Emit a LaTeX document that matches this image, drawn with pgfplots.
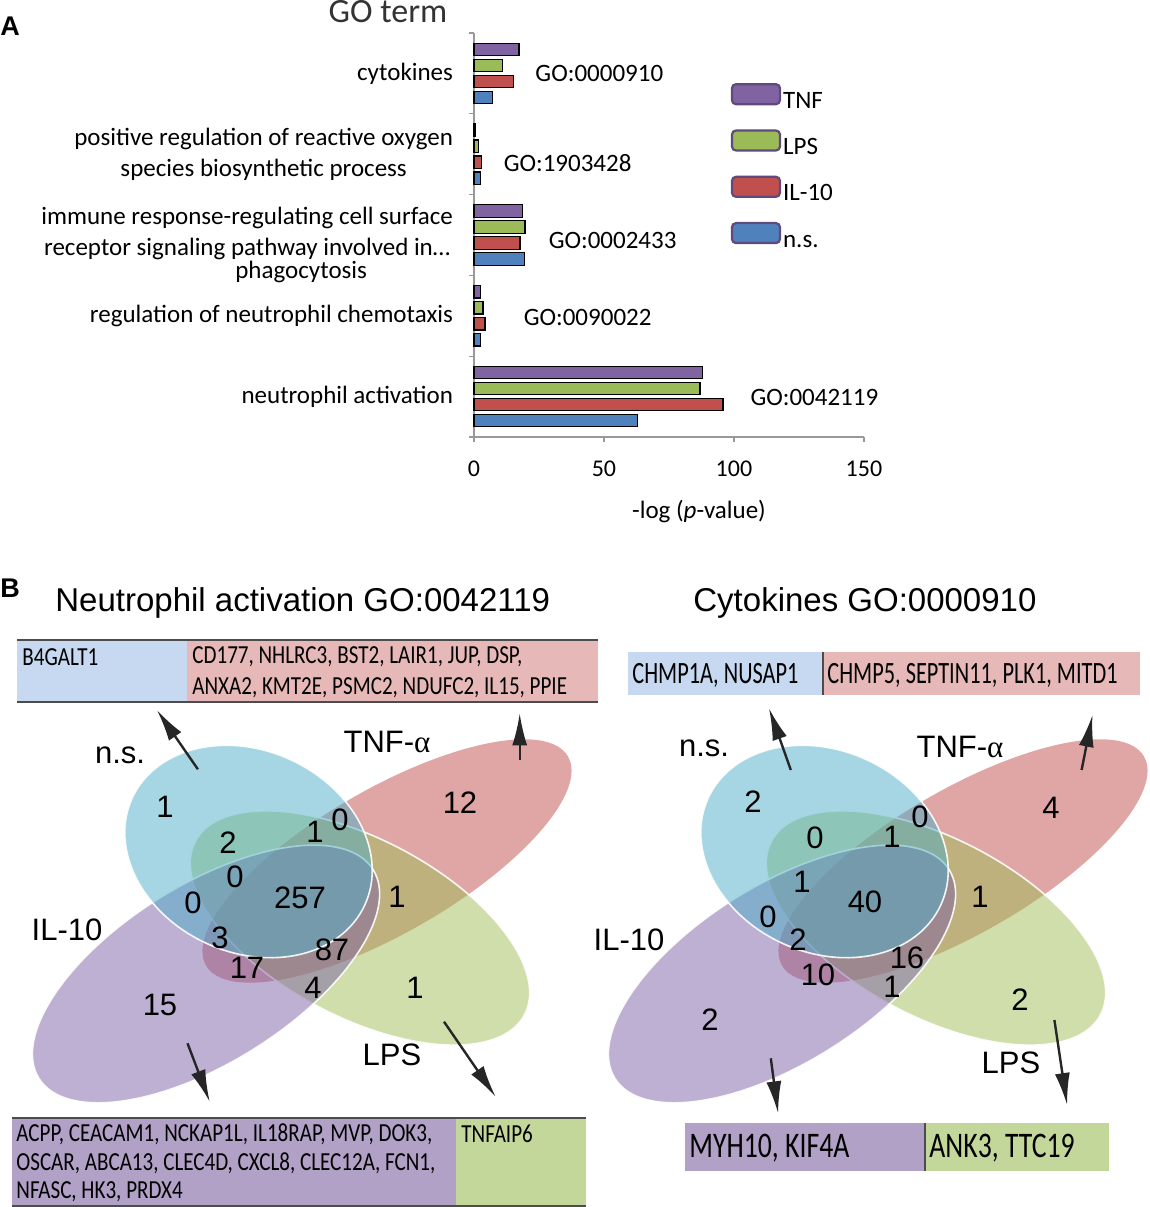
\documentclass[border=0pt]{standalone}
\usepackage{fontspec}
\setmainfont{Carlito}
\newfontfamily\arial{Liberation Sans}
\newfontfamily\greekf{Liberation Serif}
\newfontfamily\condA[FakeStretch=0.81]{Carlito}
\newfontfamily\condB[FakeStretch=0.72]{Carlito}
\newfontfamily\condC[FakeStretch=0.77]{Carlito}
\usepackage{pgfplots}
\pgfplotsset{compat=1.18}
\usetikzlibrary{arrows.meta}

\definecolor{tnf}{HTML}{8064A2}
\definecolor{lps}{HTML}{9BBB59}
\definecolor{ilten}{HTML}{C0504D}
\definecolor{ns}{HTML}{4F81BD}
\definecolor{legpurple}{HTML}{604A7B}
\definecolor{vns}{HTML}{4DADC7}
\definecolor{vtnf}{HTML}{C14D4D}
\definecolor{vil}{HTML}{7D61A5}
\definecolor{vlps}{HTML}{9FBD55}
\definecolor{boxblue}{HTML}{C6D9F0}
\definecolor{boxpink}{HTML}{E6B8B7}
\definecolor{boxpurple}{HTML}{B2A1C7}
\definecolor{boxgreen}{HTML}{C4D79B}

\pgfplotsset{myleg/.style={legend image code/.code={\draw[##1, draw=legpurple, line width=1.1pt, rounded corners=2pt] (0pt,-1pt) rectangle (24pt,9pt);}}}

\newcommand\geneA{\condA\fontsize{13}{15.5}\selectfont}
\newcommand\geneB{\condB\fontsize{15.5}{18}\selectfont}
\newcommand\geneC{\condC\fontsize{18}{21}\selectfont}
\newcommand\vfont{\arial\fontsize{15.5}{18}\selectfont}

\begin{document}
\begin{tikzpicture}[
  varrow/.style={draw=black!85, line width=1.2pt, -{Latex[length=16pt, width=7.5pt]}},
  vnum/.style={font=\vfont, inner sep=0pt},
  gtxt/.style={anchor=west, inner sep=0pt}]
\useasboundingbox (0,0) rectangle (575pt,603.5pt);

% ---------------- Panel A: bar chart ----------------
\begin{axis}[
  at={(237pt,385pt)}, anchor=south west,
  scale only axis, width=195pt, height=202pt,
  xbar, bar width=6.25pt,
  xmin=0, xmax=150, ymin=-0.5, ymax=4.5,
  axis x line=bottom, axis y line=left,
  x axis line style={-}, y axis line style={-},
  axis line style={draw=gray!80, line width=0.6pt},
  tick align=outside, major tick length=2.5pt,
  tick style={draw=gray!80, line width=0.6pt},
  xtick={0,50,100,150},
  ytick={-0.5,0.5,1.5,2.5,3.5,4.5}, yticklabels={},
  extra y ticks={0,1,1.876,3,4},
  extra y tick labels={neutrophil activation, regulation of neutrophil chemotaxis, {immune response-regulating cell surface\\receptor signaling pathway involved in…\\[-4pt]\hspace*{54pt}phagocytosis}, {positive regulation of reactive oxygen\\species biosynthetic process}, cytokines},
  extra y tick style={major tick length=0pt, tick style={draw=none}, yticklabel style={align=center, font=\fontsize{12.5}{15.5}\selectfont, xshift=-7pt, anchor=east}},
  xticklabel style={font=\fontsize{12}{14}\selectfont, yshift=-6pt},
  /pgf/number format/assume math mode=true,
  xlabel={-log (\textit{p}-value)},
  xlabel style={font=\fontsize{12.5}{15}\selectfont, at={(axis description cs:0.5,0)}, anchor=center, xshift=15pt, yshift=-37.5pt},
  ylabel={GO term},
  ylabel style={font=\fontsize{17}{20}\selectfont, at={(axis description cs:-0.2205,1.052)}, rotate=-90, anchor=center, color=black!80},
  clip=false,
  legend style={at={(axis cs:98.8,3.88)}, anchor=north west, draw=none, fill=none, inner sep=0pt, outer sep=0pt,
    font=\fontsize{12.5}{15}\selectfont, row sep=7.6pt, column sep=1pt,
    nodes={inner sep=0pt, text height=9pt, text depth=3pt}},
  legend cell align=left,
]
\addplot[fill=tnf, draw=black, line width=0.6pt, bar shift=12pt, myleg] coordinates {(87.8,0) (2.4,1) (18.7,2) (0.5,3) (17.3,4)};
\addplot[fill=lps, draw=black, line width=0.6pt, bar shift=4pt, myleg] coordinates {(86.9,0) (3.5,1) (19.6,2) (1.7,3) (10.9,4)};
\addplot[fill=ilten, draw=black, line width=0.6pt, bar shift=-4pt, myleg] coordinates {(95.8,0) (4.2,1) (17.7,2) (2.8,3) (15.1,4)};
\addplot[fill=ns, draw=black, line width=0.6pt, bar shift=-12pt, myleg] coordinates {(63.0,0) (2.4,1) (19.4,2) (2.4,3) (7.2,4)};
\legend{TNF, LPS, IL-10, n.s.}
\node[anchor=west, inner sep=0pt, font=\fontsize{12.5}{15}\selectfont] at (axis cs:23.5,4.0) {GO:0000910};
\node[anchor=west, inner sep=0pt, font=\fontsize{12.5}{15}\selectfont] at (axis cs:11.3,2.89) {GO:1903428};
\node[anchor=west, inner sep=0pt, font=\fontsize{12.5}{15}\selectfont] at (axis cs:28.6,1.938) {GO:0002433};
\node[anchor=west, inner sep=0pt, font=\fontsize{12.5}{15}\selectfont] at (axis cs:19,0.973) {GO:0090022};
\node[anchor=west, inner sep=0pt, font=\fontsize{12.5}{15}\selectfont] at (axis cs:106.2,-0.017) {GO:0042119};
\end{axis}

% ---------------- Overlay (pixel coordinates, y negative) ----------------
\begin{axis}[
  at={(0pt,0pt)}, anchor=south west,
  scale only axis, width=575pt, height=603.5pt,
  xmin=0, xmax=1150, ymin=-1207, ymax=0,
  hide axis, clip=false]

% panel letters
\node[anchor=west, inner sep=0pt, font=\arial\bfseries\fontsize{13.5}{16}\selectfont] at (axis cs:0,-26) {A};
\node[anchor=west, inner sep=0pt, font=\arial\bfseries\fontsize{13.5}{16}\selectfont] at (axis cs:0,-588) {B};

% titles
\node[anchor=west, inner sep=0pt, font=\arial\fontsize{16.5}{19}\selectfont] at (axis cs:55,-603) {Neutrophil activation GO:0042119};
\node[anchor=west, inner sep=0pt, font=\arial\fontsize{16.5}{19}\selectfont] at (axis cs:693,-603) {Cytokines GO:0000910};

% ---- left gene boxes
\fill[boxblue] (axis cs:17,-640) rectangle (axis cs:187,-702);
\fill[boxpink] (axis cs:187,-640) rectangle (axis cs:598,-702);
\draw[black!70, line width=0.9pt] (axis cs:17,-640) -- (axis cs:598,-640);
\draw[black!70, line width=0.7pt] (axis cs:17,-702) -- (axis cs:598,-702);
\node[gtxt, font=\geneA] at (axis cs:22,-657) {B4GALT1};
\node[gtxt, font=\geneA] at (axis cs:192,-657) {CD177, NHLRC3, BST2, LAIR1, JUP, DSP,};
\node[gtxt, font=\geneA] at (axis cs:192,-688) {ANXA2, KMT2E, PSMC2, NDUFC2, IL15, PPIE};

\fill[boxpurple] (axis cs:12,-1118) rectangle (axis cs:456,-1206);
\fill[boxgreen] (axis cs:456,-1118) rectangle (axis cs:586,-1206);
\draw[black!70, line width=0.9pt] (axis cs:12,-1118) -- (axis cs:586,-1118);
\draw[black!70, line width=0.7pt] (axis cs:12,-1206) -- (axis cs:586,-1206);
\node[gtxt, font=\geneA] at (axis cs:16,-1134) {ACPP, CEACAM1, NCKAP1L, IL18RAP, MVP, DOK3,};
\node[gtxt, font=\geneA] at (axis cs:16,-1163) {OSCAR, ABCA13, CLEC4D, CXCL8, CLEC12A, FCN1,};
\node[gtxt, font=\geneA] at (axis cs:16,-1192) {NFASC, HK3, PRDX4};
\node[gtxt, font=\geneA] at (axis cs:461,-1134) {TNFAIP6};

% ---- right gene boxes
\fill[boxblue] (axis cs:628,-652) rectangle (axis cs:823,-695);
\fill[boxpink] (axis cs:823,-652) rectangle (axis cs:1140,-695);
\draw[black!70, line width=0.7pt] (axis cs:823,-652) -- (axis cs:823,-695);
\node[gtxt, font=\geneB] at (axis cs:632,-675) {CHMP1A, NUSAP1};
\node[gtxt, font=\geneB] at (axis cs:827,-675) {CHMP5, SEPTIN11, PLK1, MITD1};

\fill[boxpurple] (axis cs:685,-1123) rectangle (axis cs:925,-1171);
\fill[boxgreen] (axis cs:925,-1123) rectangle (axis cs:1109,-1171);
\draw[black!70, line width=0.7pt] (axis cs:925,-1123) -- (axis cs:925,-1171);
\node[gtxt, font=\geneC] at (axis cs:689,-1148) {MYH10, KIF4A};
\node[gtxt, font=\geneC] at (axis cs:929,-1148) {ANK3, TTC19};

% ---- left Venn ellipses
\fill[vtnf, fill opacity=0.5, rotate around={30:(axis cs:387,-861)}] (axis cs:387,-861) ellipse [x radius=104.5pt, y radius=36pt];
\filldraw[fill=vlps, fill opacity=0.5, draw=white, draw opacity=0.9, line width=0.8pt, rotate around={-27.8:(axis cs:360,-928)}] (axis cs:360,-928) ellipse [x radius=93pt, y radius=44.5pt];
\filldraw[fill=vil, fill opacity=0.5, draw=white, draw opacity=0.9, line width=0.8pt, rotate around={32:(axis cs:206,-974)}] (axis cs:206,-974) ellipse [x radius=98.5pt, y radius=44.5pt];
\filldraw[fill=vns, fill opacity=0.5, draw=white, draw opacity=0.9, line width=0.8pt, rotate around={-24.7:(axis cs:248.5,-851.5)}] (axis cs:248.5,-851.5) ellipse [x radius=64pt, y radius=50.5pt];

% ---- right Venn ellipses
\fill[vtnf, fill opacity=0.5, rotate around={30:(axis cs:963,-861)}] (axis cs:963,-861) ellipse [x radius=104.5pt, y radius=36pt];
\filldraw[fill=vlps, fill opacity=0.5, draw=white, draw opacity=0.9, line width=0.8pt, rotate around={-27.8:(axis cs:936,-928)}] (axis cs:936,-928) ellipse [x radius=93pt, y radius=44.5pt];
\filldraw[fill=vil, fill opacity=0.5, draw=white, draw opacity=0.9, line width=0.8pt, rotate around={32:(axis cs:782,-974)}] (axis cs:782,-974) ellipse [x radius=98.5pt, y radius=44.5pt];
\filldraw[fill=vns, fill opacity=0.5, draw=white, draw opacity=0.9, line width=0.8pt, rotate around={-24.7:(axis cs:824.5,-851.5)}] (axis cs:824.5,-851.5) ellipse [x radius=64pt, y radius=50.5pt];

% ---- left Venn numbers
\node[vnum] at (axis cs:165,-807) {1};
\node[vnum] at (axis cs:228,-843) {2};
\node[vnum] at (axis cs:315,-832) {1};
\node[vnum] at (axis cs:340,-820) {0};
\node[vnum] at (axis cs:460,-803) {12};
\node[vnum] at (axis cs:235,-877) {0};
\node[vnum] at (axis cs:193,-903) {0};
\node[vnum] at (axis cs:300,-898) {257};
\node[vnum] at (axis cs:397,-897) {1};
\node[vnum] at (axis cs:220,-938) {3};
\node[vnum] at (axis cs:332,-950) {87};
\node[vnum] at (axis cs:247,-968) {17};
\node[vnum] at (axis cs:313,-988) {4};
\node[vnum] at (axis cs:160,-1005) {15};
\node[vnum] at (axis cs:415,-988) {1};
\node[vnum] at (axis cs:120,-755) {n.s.};
\node[vnum] at (axis cs:387,-742) {TNF-{\greekf α}};
\node[vnum] at (axis cs:67,-930) {IL-10};
\node[vnum] at (axis cs:392,-1055) {LPS};

% ---- right Venn numbers
\node[vnum] at (axis cs:753,-802) {2};
\node[vnum] at (axis cs:815,-838) {0};
\node[vnum] at (axis cs:892,-837) {1};
\node[vnum] at (axis cs:920,-817) {0};
\node[vnum] at (axis cs:1051,-808) {4};
\node[vnum] at (axis cs:802,-882) {1};
\node[vnum] at (axis cs:768,-917) {0};
\node[vnum] at (axis cs:865,-902) {40};
\node[vnum] at (axis cs:980,-897) {1};
\node[vnum] at (axis cs:798,-940) {2};
\node[vnum] at (axis cs:907,-958) {16};
\node[vnum] at (axis cs:818,-975) {10};
\node[vnum] at (axis cs:892,-987) {1};
\node[vnum] at (axis cs:710,-1020) {2};
\node[vnum] at (axis cs:1020,-1000) {2};
\node[vnum] at (axis cs:704,-748) {n.s.};
\node[vnum] at (axis cs:960,-747) {TNF-{\greekf α}};
\node[vnum] at (axis cs:629,-940) {IL-10};
\node[vnum] at (axis cs:1011,-1063) {LPS};

% ---- arrows
\draw[varrow] (axis cs:197.9,-769.3) -- (axis cs:156.9,-710);
\draw[varrow] (axis cs:519.7,-760) -- (axis cs:519.7,-713.3);
\draw[varrow] (axis cs:187.5,-1043.3) -- (axis cs:209.7,-1101.7);
\draw[varrow] (axis cs:444,-1021.7) -- (axis cs:495.6,-1096.7);
\draw[varrow] (axis cs:790.8,-770) -- (axis cs:769,-708.3);
\draw[varrow] (axis cs:1081.6,-770) -- (axis cs:1092.5,-715);
\draw[varrow] (axis cs:770.8,-1058.3) -- (axis cs:778.1,-1113.3);
\draw[varrow] (axis cs:1054.4,-1020) -- (axis cs:1067.1,-1105);
\end{axis}
\end{tikzpicture}
\end{document}
